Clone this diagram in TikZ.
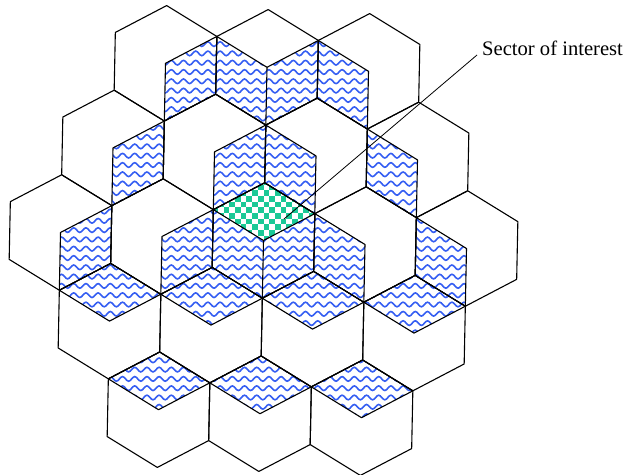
\documentclass[tikz,border=0pt]{standalone}
\usepackage{fontspec}
\setmainfont{Liberation Serif}
\usetikzlibrary{decorations.pathmorphing}
\definecolor{waveBlue}{HTML}{355EF2}
\definecolor{checkGreen}{HTML}{1AC996}
\tikzset{
  cellLine/.style={draw=black, line width=1.1pt, line join=round},
  waveLine/.style={draw=waveBlue, line width=1.6pt, decorate,
                   decoration={snake, amplitude=2.3pt, segment length=12.2pt}},
  pointer/.style={draw=black, line width=0.8pt},
  labelText/.style={font=\fontsize{20.6}{24}\selectfont, inner xsep=5pt, inner ysep=2pt},
}
% cell outline and its three sectors, centre (i,j) in lattice units
\newcommand{\hexPath}[2]{(#1,#2) ++(2/3,-1/3) -- ++(-1/3,-1/3) -- ++(-2/3,1/3)
  -- ++(-1/3,2/3) -- ++(1/3,1/3) -- ++(2/3,-1/3) -- cycle}
\newcommand{\faceT}[2]{(#1,#2) -- ++(-1/3,-1/3) -- ++(2/3,-1/3) -- ++(1/3,1/3) -- cycle}
\newcommand{\faceL}[2]{(#1,#2) -- ++(-1/3,-1/3) -- ++(-1/3,2/3) -- ++(1/3,1/3) -- cycle}
\newcommand{\faceR}[2]{(#1,#2) -- ++(2/3,-1/3) -- ++(-1/3,2/3) -- ++(-2/3,1/3) -- cycle}
% interfering sectors
\newcommand{\waveFaces}{\faceR{0}{-2} \faceL{1}{-2} \faceR{1}{-2} \faceL{2}{-2}
  \faceR{-1}{-1} \faceR{0}{-1} \faceL{1}{-1} \faceL{2}{-1}
  \faceR{-2}{0} \faceR{-1}{0} \faceL{0}{0} \faceR{0}{0} \faceL{1}{0} \faceL{2}{0}
  \faceT{-2}{1} \faceT{-1}{1} \faceT{0}{1} \faceT{1}{1}
  \faceT{-2}{2} \faceT{-1}{2} \faceT{0}{2}}

\begin{document}
\begin{tikzpicture}
  \useasboundingbox (0pt,0pt) rectangle (634pt,-474pt);
  \begin{scope}[shift={(263.5pt,-240.5pt)}, x={(101.5pt,-4pt)}, y={(49pt,-88.6pt)}]
    % wavy sectors
    \begin{scope}
      \clip \waveFaces;
      \foreach \k in {0,...,49}
        \draw[waveLine] (-218pt,{215pt-\k*9.3pt}) -- ++(450pt,0pt);
    \end{scope}
    % sector of interest
    \begin{scope}
      \clip \faceT{0}{0};
      \foreach \a in {0,...,19}
        \foreach \b in {0,...,11}
          {\ifodd\numexpr\a+\b\relax\else
             \fill[checkGreen] ({-57pt+\a*5.7pt},{-1pt+\b*5.7pt}) rectangle ++(5.7pt,5.7pt);
           \fi}
    \end{scope}
    \foreach \i/\j in {0/-2,1/-2,2/-2,-1/-1,0/-1,1/-1,2/-1,-2/0,-1/0,0/0,1/0,2/0,
                       -2/1,-1/1,0/1,1/1,-2/2,-1/2,0/2}
      \draw[cellLine] \hexPath{\i}{\j};
    \draw[cellLine] \waveFaces \faceT{0}{0};
    \coordinate (tip) at (20.5pt,21.5pt);
  \end{scope}
  \node[labelText, anchor=base west] (soi) at (477pt,-55pt) {Sector of interest};
  \draw[pointer] (tip) -- (soi.base west);
\end{tikzpicture}
\end{document}
